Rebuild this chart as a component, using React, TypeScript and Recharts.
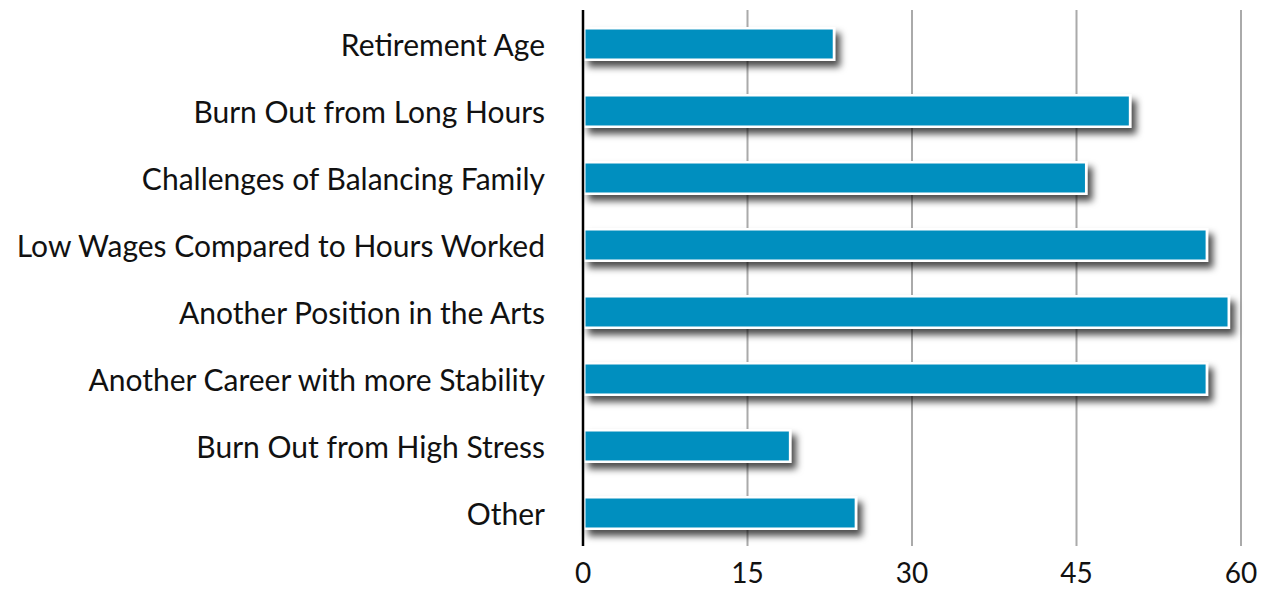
import React from 'react'
import { BarChart, Bar, XAxis, YAxis, CartesianGrid } from 'recharts'

const categories = [
    'Retirement Age',
    'Burn Out from Long Hours',
    'Challenges of Balancing Family',
    'Low Wages Compared to Hours Worked',
    'Another Position in the Arts',
    'Another Career with more Stability',
    'Burn Out from High Stress',
    'Other',
]
const values = [23, 50, 46, 57, 59, 57, 19, 25]
const xTicks = [0, 15, 30, 45, 60]

const data = categories.map((reason, i) => ({ reason, count: values[i] }))

const FONT = 'Lato, "Open Sans", sans-serif'

// white-edged bar with a soft drop shadow
const ShadowBar = (props: any) => {
    const { x, y, width, height } = props
    if (!width || width <= 0) return null
    const inset = 2.5
    return (
        <g filter="url(#barShadow)">
            <rect x={x} y={y} width={width} height={height} fill="#ffffff" />
            <rect x={x + inset} y={y + inset} width={width - inset * 2} height={height - inset * 2} fill="#068fbf" />
        </g>
    )
}

const App: React.FC = () => {
    return (
        <div style={{ position: 'absolute', left: 0, top: 0, background: '#fff' }}>
            <BarChart
                width={1265}
                height={590}
                data={data}
                layout="vertical"
                margin={{ top: 10, right: 24, bottom: 0, left: 0 }}
                barSize={34}
            >
                <defs>
                    <filter id="barShadow" x="-10%" y="-40%" width="130%" height="200%">
                        <feDropShadow dx={5} dy={6} stdDeviation={3.5} floodColor="#000" floodOpacity={0.7} />
                    </filter>
                </defs>
                <CartesianGrid horizontal={false} stroke="#aaaaaa" strokeWidth={2} />
                <XAxis
                    type="number"
                    domain={[0, 60]}
                    ticks={xTicks}
                    height={44}
                    axisLine={false}
                    tickLine={false}
                    tickSize={0}
                    tickMargin={17}
                    tick={{ fill: '#111', fontSize: 28, fontFamily: FONT }}
                />
                <YAxis
                    type="category"
                    dataKey="reason"
                    width={583}
                    axisLine={{ stroke: '#000', strokeWidth: 2.5 }}
                    tickLine={false}
                    tickSize={0}
                    tickMargin={38}
                    interval={0}
                    tick={{ fill: '#111', fontSize: 30, fontFamily: FONT, dy: 2 }}
                />
                <Bar dataKey="count" shape={ShadowBar} isAnimationActive={false} />
            </BarChart>
        </div>
    )
}

export default App
